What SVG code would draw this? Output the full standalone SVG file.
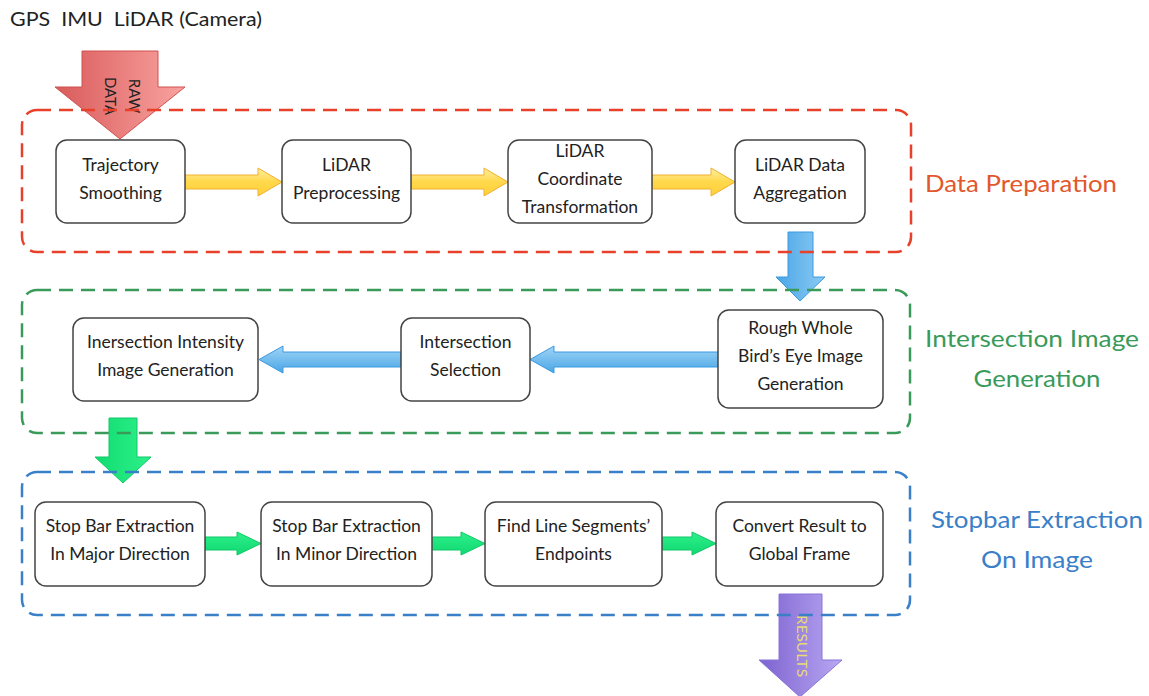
<svg xmlns="http://www.w3.org/2000/svg" width="1149" height="696" viewBox="0 0 1149 696">
<defs>
<style>
.t{font-family:Lato,"Open Sans","Liberation Sans",sans-serif;font-size:17.5px;fill:#222;text-anchor:middle;dominant-baseline:central}
.node{fill:#fff;stroke:#444;stroke-width:1.5}
.grp{fill:none;stroke-width:2.5;stroke-dasharray:14 8}
.lab{font-family:Lato,"Open Sans","Liberation Sans",sans-serif;font-size:24px;text-anchor:middle;dominant-baseline:central}
.rot{font-family:Lato,"Open Sans","Liberation Sans",sans-serif;font-size:15px;text-anchor:middle;dominant-baseline:central}
</style>
<linearGradient id="gRed" x1="0" y1="0" x2="1" y2="0"><stop offset="0" stop-color="#d95b5b"/><stop offset="1" stop-color="#f9a3a0"/></linearGradient>
<linearGradient id="gYel" x1="0" y1="0" x2="0" y2="1"><stop offset="0" stop-color="#fff0a0"/><stop offset="0.5" stop-color="#ffd84a"/><stop offset="1" stop-color="#ffcf3a"/></linearGradient>
<linearGradient id="gBlueV" x1="0" y1="0" x2="1" y2="0"><stop offset="0" stop-color="#4aa6e6"/><stop offset="1" stop-color="#8ccaf4"/></linearGradient>
<linearGradient id="gBlueH" x1="0" y1="0" x2="0" y2="1"><stop offset="0" stop-color="#9fd4f6"/><stop offset="1" stop-color="#4aa6e6"/></linearGradient>
<linearGradient id="gGreen" x1="0" y1="0" x2="0" y2="1"><stop offset="0" stop-color="#2ef08a"/><stop offset="1" stop-color="#10d870"/></linearGradient>
<linearGradient id="gGreenV" x1="0" y1="0" x2="1" y2="0"><stop offset="0" stop-color="#10dc70"/><stop offset="1" stop-color="#2ef08a"/></linearGradient>
<linearGradient id="gPur" x1="0" y1="0" x2="1" y2="0"><stop offset="0" stop-color="#7d62d0"/><stop offset="1" stop-color="#b8a8f2"/></linearGradient>
</defs>
<rect width="1149" height="696" fill="#fff"/>

<text x="10" y="18" textLength="252" lengthAdjust="spacingAndGlyphs" style="font-family:Lato,'Open Sans','Liberation Sans',sans-serif;font-size:20px;fill:#222;dominant-baseline:central" xml:space="preserve">GPS  IMU  LiDAR (Camera)</text>

<g id="connectors">
  <path d="M82,51 H158 V87 H185 L120,139 L55,87 H82 Z" fill="url(#gRed)" stroke="#d05050" stroke-width="1"/>
  <text transform="translate(135,96) rotate(90)" class="rot" fill="#222">RAW</text>
  <text transform="translate(111,96) rotate(90)" class="rot" fill="#222">DATA</text>
  <path d="M185,175 H258 V168 L282,182 L258,196 V189 H185 Z" fill="url(#gYel)" stroke="#f0b030" stroke-width="1"/>
  <path d="M411,175 H484 V168 L508,182 L484,196 V189 H411 Z" fill="url(#gYel)" stroke="#f0b030" stroke-width="1"/>
  <path d="M652,175 H711 V168 L735,182 L711,196 V189 H652 Z" fill="url(#gYel)" stroke="#f0b030" stroke-width="1"/>
  <path d="M788,232 H813 V277 H825 L800,301 L776,277 H788 Z" fill="url(#gBlueV)" stroke="#3a9ae0" stroke-width="1"/>
  <path d="M718,352 H554 V346 L530,359.5 L554,373 V367 H718 Z" fill="url(#gBlueH)" stroke="#3a9ae0" stroke-width="1"/>
  <path d="M401,352 H283 V346 L259,359.5 L283,373 V367 H401 Z" fill="url(#gBlueH)" stroke="#3a9ae0" stroke-width="1"/>
  <path d="M109,418 H137 V457 H151 L123,483 L95,457 H109 Z" fill="url(#gGreenV)" stroke="#10c868" stroke-width="1"/>
  <path d="M205,537 H237 V532 L261,543.5 L237,555 V550 H205 Z" fill="url(#gGreen)" stroke="#10c868" stroke-width="1"/>
  <path d="M432,537 H461 V532 L485,543.5 L461,555 V550 H432 Z" fill="url(#gGreen)" stroke="#10c868" stroke-width="1"/>
  <path d="M662,537 H692 V532 L716,543.5 L692,555 V550 H662 Z" fill="url(#gGreen)" stroke="#10c868" stroke-width="1"/>
  <path d="M779,594 H822 V660 H842 L800,697 L759,660 H779 Z" fill="url(#gPur)" stroke="#8a74d8" stroke-width="1"/>
  <text transform="translate(802,646) rotate(90)" class="rot" fill="#e8dc70" style="font-size:14px" textLength="62" lengthAdjust="spacingAndGlyphs">RESULTS</text>
</g>

<g id="groups">
  <rect class="grp" x="22" y="110" width="889" height="142" rx="15" stroke="#e8402a"/>
  <rect class="grp" x="22" y="290" width="888" height="143" rx="15" stroke="#3a9a5a"/>
  <rect class="grp" x="22" y="472" width="888" height="143" rx="15" stroke="#3a80c8"/>
</g>

<g id="n1"><rect class="node" x="56" y="140" width="129" height="83" rx="11"/><text class="t" x="120.5" y="164">Trajectory</text><text class="t" x="120.5" y="192">Smoothing</text></g>
<g id="n2"><rect class="node" x="282" y="140" width="129" height="83" rx="11"/><text class="t" x="346.5" y="164">LiDAR</text><text class="t" x="346.5" y="192">Preprocessing</text></g>
<g id="n3"><rect class="node" x="508" y="140" width="144" height="83" rx="11"/><text class="t" x="580" y="150">LiDAR</text><text class="t" x="580" y="178">Coordinate</text><text class="t" x="580" y="206">Transformation</text></g>
<g id="n4"><rect class="node" x="735" y="140" width="130" height="83" rx="11"/><text class="t" x="800" y="164">LiDAR Data</text><text class="t" x="800" y="192">Aggregation</text></g>

<g id="n5"><rect class="node" x="718" y="310" width="165" height="98" rx="11"/><text class="t" x="800.5" y="327">Rough Whole</text><text class="t" x="800.5" y="355">Bird’s Eye Image</text><text class="t" x="800.5" y="383">Generation</text></g>
<g id="n6"><rect class="node" x="401" y="318" width="129" height="83" rx="11"/><text class="t" x="465.5" y="341">Intersection</text><text class="t" x="465.5" y="369">Selection</text></g>
<g id="n7"><rect class="node" x="73" y="318" width="185" height="83" rx="11"/><text class="t" x="165.5" y="341">Inersection Intensity</text><text class="t" x="165.5" y="369">Image Generation</text></g>

<g id="n8"><rect class="node" x="35" y="502" width="170" height="84" rx="11"/><text class="t" x="120" y="525">Stop Bar Extraction</text><text class="t" x="120" y="553">In Major Direction</text></g>
<g id="n9"><rect class="node" x="261" y="502" width="171" height="84" rx="11"/><text class="t" x="346.5" y="525">Stop Bar Extraction</text><text class="t" x="346.5" y="553">In Minor Direction</text></g>
<g id="n10"><rect class="node" x="485" y="502" width="177" height="84" rx="11"/><text class="t" x="573.5" y="525">Find Line Segments’</text><text class="t" x="573.5" y="553">Endpoints</text></g>
<g id="n11"><rect class="node" x="716" y="502" width="167" height="84" rx="11"/><text class="t" x="799.5" y="525">Convert Result to</text><text class="t" x="799.5" y="553">Global Frame</text></g>

<g id="labels">
  <text class="lab" x="1021" y="182" fill="#e2582c" textLength="192" lengthAdjust="spacingAndGlyphs">Data Preparation</text>
  <text class="lab" x="1032" y="337" fill="#3a9a5a" textLength="214" lengthAdjust="spacingAndGlyphs">Intersection Image</text>
  <text class="lab" x="1037" y="377" fill="#3a9a5a" textLength="127" lengthAdjust="spacingAndGlyphs">Generation</text>
  <text class="lab" x="1037" y="518" fill="#3a80c8" textLength="212" lengthAdjust="spacingAndGlyphs">Stopbar Extraction</text>
  <text class="lab" x="1037" y="558" fill="#3a80c8" textLength="112" lengthAdjust="spacingAndGlyphs">On Image</text>
</g>
</svg>
